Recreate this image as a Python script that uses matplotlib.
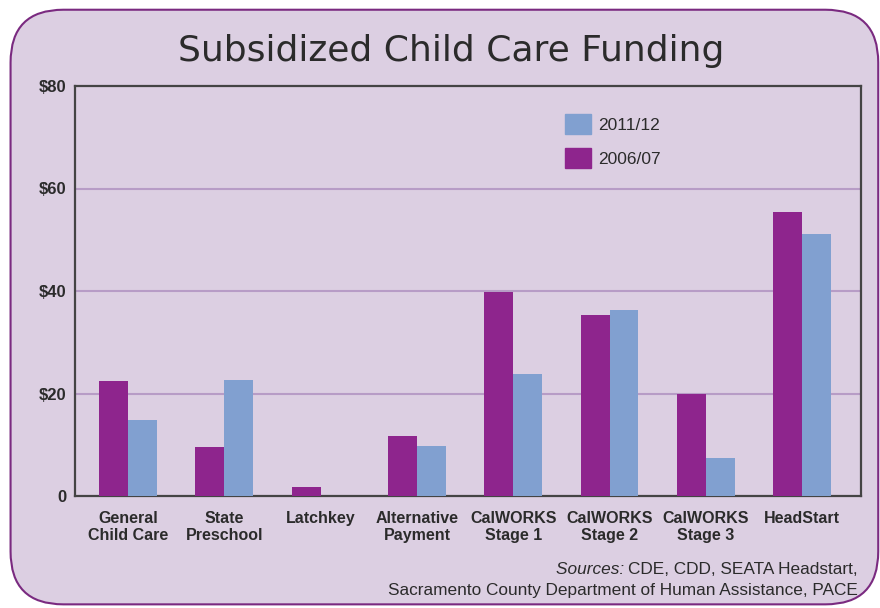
import matplotlib
matplotlib.use("Agg")
import matplotlib.pyplot as plt
import numpy as np
from matplotlib.patches import FancyBboxPatch, Patch

# Data (millions of dollars)
categories = ["General\nChild Care", "State\nPreschool", "Latchkey", "Alternative\nPayment",
              "CalWORKS\nStage 1", "CalWORKS\nStage 2", "CalWORKS\nStage 3", "HeadStart"]
funding_0607 = [22.5, 9.5, 1.7, 11.8, 39.8, 35.3, 20.0, 55.5]
funding_1112 = [14.8, 22.7, 0.0, 9.7, 23.9, 36.3, 7.4, 51.1]
y_ticks = [0, 20, 40, 60, 80]
y_labels = ["0", "$20", "$40", "$60", "$80"]

BG = "#DCCFE2"
PURPLE = "#8E258D"
BLUE = "#81A0D0"
GRID = "#B79CC6"
DARK = "#2b2b2b"

plt.rcParams['font.family'] = ['Liberation Sans', 'DejaVu Sans']

fig = plt.figure(figsize=(8.8, 6.08), dpi=100)
fig.patch.set_facecolor("white")

# rounded panel behind everything
panel = FancyBboxPatch((0.012, 0.006), 0.986, 0.978,
                       boxstyle="round,pad=0,rounding_size=0.06",
                       transform=fig.transFigure, facecolor=BG,
                       edgecolor="#7A2A80", linewidth=1.5, mutation_aspect=880 / 608,
                       zorder=-5)
fig.patches.append(panel)

ax = fig.add_axes([75 / 880, 1 - 496 / 608, 786 / 880, 410 / 608])
ax.set_facecolor(BG)

x = np.arange(len(categories))
w = 0.3
ax.bar(x - w / 2, funding_0607, width=w, color=PURPLE, zorder=3)
ax.bar(x + w / 2, funding_1112, width=w, color=BLUE, zorder=3)

ax.set_xlim(-0.55, 7.61)
ax.set_ylim(0, 80)
ax.set_yticks(y_ticks)
ax.set_yticklabels(y_labels, fontsize=12, fontweight="bold", color=DARK)
ax.set_xticks(x)
ax.set_xticklabels(categories, fontsize=11.5, fontweight="bold", color=DARK, linespacing=1.15)
ax.tick_params(axis="both", length=0, pad=6)
ax.tick_params(axis="x", pad=11)

for v in [20, 40, 60]:
    ax.axhline(v, color=GRID, linewidth=1.5, zorder=1)

for s in ax.spines.values():
    s.set_color("#444444")
    s.set_linewidth(1.6)

handles = [Patch(color=BLUE, label="2011/12"), Patch(color=PURPLE, label="2006/07")]
leg = ax.legend(handles=handles, loc="upper left", bbox_to_anchor=(0.603, 0.97),
                frameon=False, fontsize=12.5, handlelength=1.55, handleheight=1.4,
                labelspacing=0.8, handletextpad=0.4)
for t in leg.get_texts():
    t.set_color(DARK)

fig.text(451 / 880, 1 - 51 / 608, "Subsidized Child Care Funding", ha="center", va="center",
         fontsize=26, color=DARK, family="DejaVu Sans")

src = fig.text(858 / 880, 1 - 570 / 608, "CDE, CDD, SEATA Headstart,", ha="right",
               va="center", fontsize=12.4, color=DARK)
ax.annotate("Sources: ", xy=(0, 0.5), xycoords=src, ha="right", va="center",
            fontsize=12.4, style="italic", color=DARK, annotation_clip=False, zorder=10)
fig.text(858 / 880, 1 - 590 / 608,
         "Sacramento County Department of Human Assistance, PACE",
         ha="right", va="center", fontsize=12.4, color=DARK)

fig.savefig("out.png", dpi=100, facecolor=fig.get_facecolor())
